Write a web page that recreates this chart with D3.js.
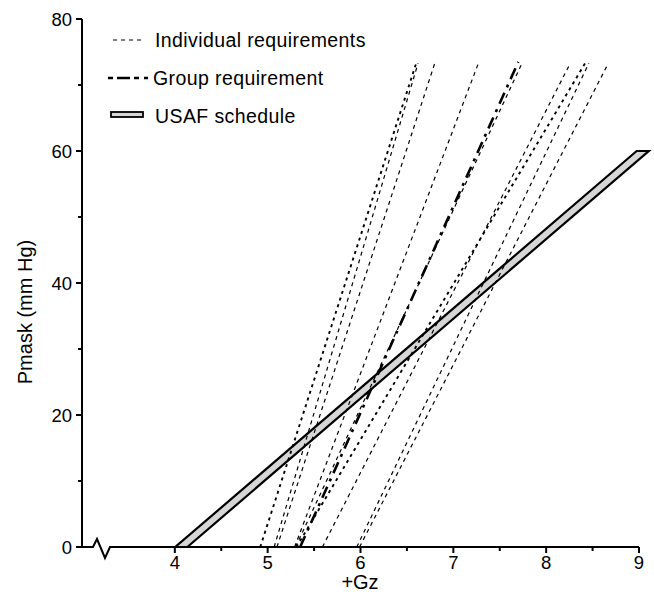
<!DOCTYPE html>
<html lang="en">
<head>
	<meta charset="utf-8">
	<title>Pmask vs +Gz</title>
	<script src="https://d3js.org/d3.v7.min.js"></script>
	<style type="text/css">
		body {
			margin: 0;
			background: white;
		}
		text {
			font-family: "Liberation Sans", Arial, Helvetica, sans-serif;
			fill: black;
		}
		.tick-label {
			font-size: 18.5px;
		}
		.axis-title {
			font-size: 20px;
		}
		.legend-text {
			font-size: 19.5px;
			letter-spacing: 0.4px;
		}
	</style>
</head>
<body>
	<svg id="chart-svg"></svg>

	<script type="text/javascript">
		// data ------------------------------
		// each individual line runs from P = 0 at gStart to P = pEnd at gEnd
		let individualStart = [4.92, 5.07, 5.10, 5.29, 5.31, 5.30, 5.59, 5.96, 5.99]
		let individualEnd   = [6.60, 6.62, 6.80, 7.27, 8.42, 7.74, 8.26, 8.46, 8.67]
		let individualBold  = [true, false, false, false, true, false, false, false, false]
		let pEnd = 73.3

		let groupG = [5.35, 7.70]
		let groupP = [0, 73.5]

		// USAF schedule band (centre line and half width in G)
		let usafG = [4.07, 9.04]
		let usafP = [0, 60]
		let usafHalf = 0.065

		let xTicks = [4, 5, 6, 7, 8, 9]
		let xMinor = [4.5, 5.5, 6.5, 7.5, 8.5]
		let yTicks = [0, 20, 40, 60, 80]
		let yMinor = [10, 30, 50, 70]

		let legendLabels = ['Individual requirements', 'Group requirement', 'USAF schedule']

		// size ------------------------------
		let w = 654
		let h = 595

		let svg = d3.select('#chart-svg')
		.attr('width', w)
		.attr('height', h)

		let xScale = d3.scaleLinear()
		.domain([3, 9])
		.range([82, 639])

		let yScale = d3.scaleLinear()
		.domain([0, 80])
		.range([547, 19])

		let line = d3.line()
		.x(function(d) { return xScale(d[0]) })
		.y(function(d) { return yScale(d[1]) })

		// USAF band ---------------------------
		let band = [
			[usafG[0] - usafHalf, usafP[0]],
			[usafG[0] + usafHalf, usafP[0]],
			[usafG[1] + usafHalf, usafP[1]],
			[usafG[1] - usafHalf, usafP[1]]
		]
		svg.append('path')
		.attr('d', line(band) + 'Z')
		.attr('fill', '#d6d6d6')
		.attr('stroke', 'black')
		.attr('stroke-width', 2.2)
		.attr('stroke-linejoin', 'miter')

		// individual lines -------------------
		let indiv = []
		for (let i = 0; i < individualStart.length; i++) {
			indiv.push({
				pts: [[individualStart[i], 0], [individualEnd[i], pEnd]],
				bold: individualBold[i]
			})
		}

		svg.append('g')
		.selectAll('path')
		.data(indiv)
		.enter()
		.append('path')
		.attr('d', function(d) { return line(d.pts) })
		.attr('fill', 'none')
		.attr('stroke', 'black')
		.attr('stroke-width', function(d) { return d.bold ? 1.9 : 1.2 })
		.attr('stroke-dasharray', function(d) { return d.bold ? '3,4' : '4,4' })

		// group requirement
		svg.append('path')
		.attr('d', line([[groupG[0], groupP[0]], [groupG[1], groupP[1]]]))
		.attr('fill', 'none')
		.attr('stroke', 'black')
		.attr('stroke-width', 2.6)
		.attr('stroke-dasharray', '12,6,3,6')

		// axes --------------------------------
		let axisG = svg.append('g')

		// y axis line
		axisG.append('line')
		.attr('x1', xScale(3)).attr('x2', xScale(3))
		.attr('y1', yScale(0)).attr('y2', yScale(80))
		.attr('stroke', 'black')
		.attr('stroke-width', 2)

		// x axis line with break near the origin
		let y0 = yScale(0)
		let x0 = xScale(3)
		let brk = 'M' + (x0 - 1) + ',' + y0 +
			' L' + (x0 + 11) + ',' + y0 +
			' L' + (x0 + 15) + ',' + (y0 - 8) +
			' L' + (x0 + 23) + ',' + (y0 + 11) +
			' L' + (x0 + 28) + ',' + y0 +
			' L' + xScale(9) + ',' + y0
		axisG.append('path')
		.attr('d', brk)
		.attr('fill', 'none')
		.attr('stroke', 'black')
		.attr('stroke-width', 2)

		// y ticks
		axisG.selectAll('.ymaj')
		.data(yTicks)
		.enter()
		.append('line')
		.attr('x1', x0 - 6).attr('x2', x0)
		.attr('y1', function(d) { return yScale(d) })
		.attr('y2', function(d) { return yScale(d) })
		.attr('stroke', 'black')
		.attr('stroke-width', 2)

		axisG.selectAll('.ymin')
		.data(yMinor)
		.enter()
		.append('line')
		.attr('x1', x0 - 4).attr('x2', x0)
		.attr('y1', function(d) { return yScale(d) })
		.attr('y2', function(d) { return yScale(d) })
		.attr('stroke', 'black')
		.attr('stroke-width', 2)

		axisG.selectAll('.ylab')
		.data(yTicks)
		.enter()
		.append('text')
		.attr('class', 'tick-label')
		.attr('x', x0 - 10)
		.attr('y', function(d) { return yScale(d) + 6.5 })
		.attr('text-anchor', 'end')
		.text(function(d) { return d })

		// x ticks
		axisG.selectAll('.xmaj')
		.data(xTicks)
		.enter()
		.append('line')
		.attr('x1', function(d) { return xScale(d) })
		.attr('x2', function(d) { return xScale(d) })
		.attr('y1', y0).attr('y2', y0 + 6)
		.attr('stroke', 'black')
		.attr('stroke-width', 2)

		axisG.selectAll('.xmin')
		.data(xMinor)
		.enter()
		.append('line')
		.attr('x1', function(d) { return xScale(d) })
		.attr('x2', function(d) { return xScale(d) })
		.attr('y1', y0).attr('y2', y0 + 4)
		.attr('stroke', 'black')
		.attr('stroke-width', 2)

		axisG.selectAll('.xlab')
		.data(xTicks)
		.enter()
		.append('text')
		.attr('class', 'tick-label')
		.attr('x', function(d) { return xScale(d) })
		.attr('y', y0 + 22)
		.attr('text-anchor', 'middle')
		.text(function(d) { return d })

		// titles
		svg.append('text')
		.attr('class', 'axis-title')
		.attr('x', 360)
		.attr('y', 589)
		.attr('text-anchor', 'middle')
		.text('+Gz')

		svg.append('text')
		.attr('class', 'axis-title')
		.attr('transform', 'translate(32,312) rotate(-90)')
		.attr('text-anchor', 'middle')
		.text('Pmask (mm Hg)')

		// legend ------------------------------
		let leg = svg.append('g')

		leg.append('line')
		.attr('x1', 113).attr('x2', 143)
		.attr('y1', 40).attr('y2', 40)
		.attr('stroke', 'black')
		.attr('stroke-width', 1.2)
		.attr('stroke-dasharray', '4,4')

		leg.append('line')
		.attr('x1', 108).attr('x2', 151)
		.attr('y1', 78).attr('y2', 78)
		.attr('stroke', 'black')
		.attr('stroke-width', 2.6)
		.attr('stroke-dasharray', '5,4,13,4,5')

		leg.append('rect')
		.attr('x', 111).attr('y', 112)
		.attr('width', 32).attr('height', 5)
		.attr('fill', '#d6d6d6')
		.attr('stroke', 'black')
		.attr('stroke-width', 1.8)

		leg.selectAll('text')
		.data(legendLabels)
		.enter()
		.append('text')
		.attr('class', 'legend-text')
		.attr('x', function(d, i) { return i == 1 ? 153 : 155 })
		.attr('y', function(d, i) { return 47 + i * 38 })
		.text(function(d) { return d })
	</script>
</body>
</html>
